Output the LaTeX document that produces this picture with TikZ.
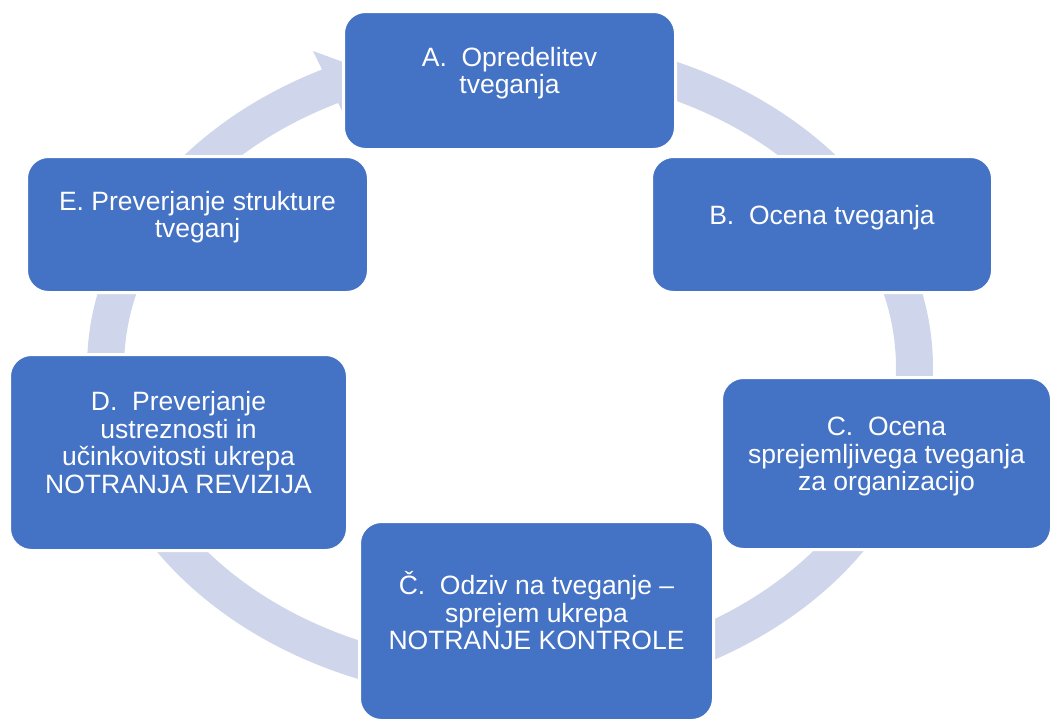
\documentclass[tikz,border=0pt]{standalone}
\usepackage{fontspec}
\setmainfont{Liberation Sans}
\usepackage{tikz}

\definecolor{boxblue}{HTML}{4472C4}
\definecolor{ringgray}{HTML}{CFD5EA}
\newcommand{\boxtext}[1]{\raisebox{6pt}[\height][\depth]{\begin{tabular}{@{}c@{}}#1\end{tabular}}}

\begin{document}
\begin{tikzpicture}[x=1pt, y=-1pt,
    blok/.style={draw=white, line width=3pt, fill=boxblue, rounded corners=22pt,
        text=white, inner sep=0pt, font=\fontsize{26.5}{27.5}\selectfont}]
    \useasboundingbox (0,0) rectangle (1050,718);
    % krog s puscico
    \draw[ringgray, line width=37pt] (510,368) ellipse [x radius=404.5pt, y radius=314.5pt];
    \fill[ringgray] (313,51) -- (362,69) -- (346,119) -- cycle;

    \node[blok, minimum width=332pt, minimum height=138pt] (A) at (509.5,80.5) {\boxtext{A.\ \ Opredelitev\\tveganja}};
    \node[blok, minimum width=341pt, minimum height=136pt] (B) at (822,224.5) {\boxtext{B.\ \ Ocena tveganja}};
    \node[blok, minimum width=330pt, minimum height=172pt] (C) at (886.5,463.5) {\boxtext{C.\ \ Ocena\\sprejemljivega tveganja\\za organizacijo}};
    \node[blok, minimum width=354pt, minimum height=199pt] (Ch) at (536.5,621) {\boxtext{Č.\ \ Odziv na tveganje –\\sprejem ukrepa\\NOTRANJE KONTROLE}};
    \node[blok, minimum width=338pt, minimum height=196pt] (D) at (178.5,452.5) {\boxtext{D.\ \ Preverjanje\\ustreznosti in\\učinkovitosti ukrepa\\NOTRANJA REVIZIJA}};
    \node[blok, minimum width=342pt, minimum height=136pt] (E) at (197.5,224.5) {\boxtext{E. Preverjanje strukture\\tveganj}};
\end{tikzpicture}
\end{document}
